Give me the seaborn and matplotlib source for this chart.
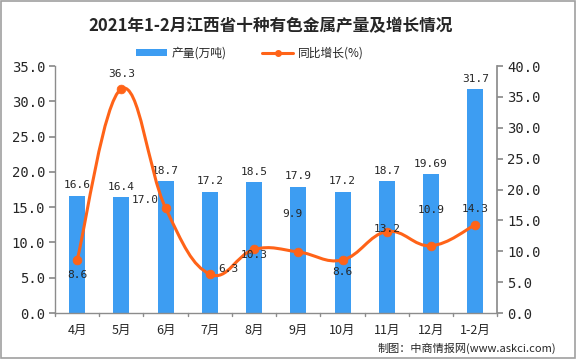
import matplotlib
matplotlib.use("Agg")
import matplotlib.pyplot as plt
import seaborn as sns
import pandas as pd
import numpy as np
from matplotlib.path import Path
from matplotlib.patches import PathPatch, Rectangle
from matplotlib.lines import Line2D

months = ["4月", "5月", "6月", "7月", "8月", "9月", "10月", "11月", "12月", "1-2月"]
output = [16.6, 16.4, 18.7, 17.2, 18.5, 17.9, 17.2, 18.7, 19.69, 31.7]
output_labels = ["16.6", "16.4", "18.7", "17.2", "18.5", "17.9", "17.2", "18.7", "19.69", "31.7"]
growth = [8.6, 36.3, 17.0, 6.3, 10.3, 9.9, 8.6, 13.2, 10.9, 14.3]
growth_labels = ["8.6", "36.3", "17.0", "6.3", "10.3", "9.9", "8.6", "13.2", "10.9", "14.3"]
left_ticks = [0, 5, 10, 15, 20, 25, 30, 35]
right_ticks = [0, 5, 10, 15, 20, 25, 30, 35, 40]

# label offsets (points) for growth labels
g_off = [(0, -11), (0, 11), (-15, 6), (13, 4), (0, -4), (-4, 27), (0, -9), (0, 2), (0, 26), (0, 11)]

BLUE = "#3D9DF2"
ORANGE = "#FF6318"
GRAY = "#8C8C8C"

sns.set_theme(style="white")
plt.rcParams['font.family'] = ['Noto Sans CJK SC', 'DejaVu Sans']
NUM = ['DejaVu Sans Mono', 'Noto Sans CJK SC']

fig = plt.figure(figsize=(5.76, 3.59), dpi=100)
fig.patch.set_facecolor("white")
fig.add_artist(Rectangle((0.001, 0.002), 0.997, 0.995, transform=fig.transFigure,
                         fill=False, edgecolor="#A0A0A0", linewidth=1.2))

ax = fig.add_axes([0.0955, 0.128, 0.768, 0.688])
df = pd.DataFrame({"month": months, "output": output})
sns.barplot(data=df, x="month", y="output", color=BLUE, width=0.36, ax=ax,
            saturation=1, edgecolor="none")
ax.set_xlim(-0.5, len(months) - 0.5)
ax.set_ylim(0, 35)
ax.set_yticks(left_ticks)
ax.set_yticklabels([f"{t:.1f}" for t in left_ticks], fontsize=10, family=NUM)
ax.set_xlabel("")
ax.set_ylabel("")
ax.set_xticks(range(len(months)))
ax.set_xticklabels(months, fontsize=9)
ax.tick_params(axis="x", length=0, pad=8)
ax.tick_params(axis="y", length=4, color=GRAY, direction="out", left=True, pad=3)
for x in np.arange(-0.5, len(months), 1.0):
    ax.plot([x, x], [0, -0.013], transform=ax.get_xaxis_transform(), color=GRAY,
            lw=1, clip_on=False)
for s in ["top", "right"]:
    ax.spines[s].set_visible(False)
for s in ["left", "bottom"]:
    ax.spines[s].set_color(GRAY)
    ax.spines[s].set_linewidth(1)

for i, (v, lab) in enumerate(zip(output, output_labels)):
    ax.annotate(lab, (i, v), xytext=(0, 4), textcoords="offset points",
                ha="center", va="bottom", fontsize=8, family=NUM)

ax2 = ax.twinx()
ax2.set_ylim(0, 40)
ax2.set_yticks(right_ticks)
ax2.set_yticklabels([f"{t:.1f}" for t in right_ticks], fontsize=10, family=NUM)
ax2.tick_params(axis="y", length=4, color=GRAY, direction="out", right=True, pad=3)
for s in ["top", "left", "bottom"]:
    ax2.spines[s].set_visible(False)
ax2.spines["right"].set_color(GRAY)
ax2.grid(False)
ax.grid(False)

# smooth line via Catmull-Rom bezier through data points
xs = np.arange(len(growth), dtype=float)
ys = np.array(growth, dtype=float)
verts = [(xs[0], ys[0])]
codes = [Path.MOVETO]
t = 0.6
for i in range(len(xs) - 1):
    p0 = (xs[i - 1], ys[i - 1]) if i > 0 else (xs[i], ys[i])
    p1 = (xs[i], ys[i])
    p2 = (xs[i + 1], ys[i + 1])
    p3 = (xs[i + 2], ys[i + 2]) if i + 2 < len(xs) else (xs[i + 1], ys[i + 1])
    c1 = (p1[0] + (p2[0] - p0[0]) * t / 3, p1[1] + (p2[1] - p0[1]) * t / 3)
    c2 = (p2[0] - (p3[0] - p1[0]) * t / 3, p2[1] - (p3[1] - p1[1]) * t / 3)
    verts += [c1, c2, p2]
    codes += [Path.CURVE4] * 3
ax2.add_patch(PathPatch(Path(verts, codes), fill=False, edgecolor=ORANGE, lw=2.2,
                        capstyle="round", joinstyle="round", zorder=3))
gdf = pd.DataFrame({"x": xs, "growth": growth})
sns.scatterplot(data=gdf, x="x", y="growth", color=ORANGE, s=40, edgecolor=ORANGE,
                ax=ax2, zorder=4, legend=False)
ax2.set_xlabel("")
ax2.set_ylabel("")
for i, (v, lab) in enumerate(zip(growth, growth_labels)):
    ax2.annotate(lab, (i, v), xytext=g_off[i], textcoords="offset points",
                 ha="center", va="center", fontsize=8, family=NUM, zorder=5)

fig.text(0.47, 0.928, "2021年1-2月江西省十种有色金属产量及增长情况", ha="center", va="center",
         fontsize=12, fontweight="bold")

handles = [Rectangle((0, 0), 1, 1, facecolor=BLUE, edgecolor="none"),
           Line2D([0], [0], color=ORANGE, lw=2.2, marker="o", markersize=4)]
fig.legend(handles, ["产量(万吨)", "同比增长(%)"], loc="center", bbox_to_anchor=(0.434, 0.852),
           ncol=2, frameon=False, fontsize=8.5, handlelength=2.6, handleheight=0.6,
           columnspacing=3, handletextpad=0.4)

fig.text(0.965, 0.03, "制图：中商情报网(www.askci.com)", ha="right", va="center", fontsize=8)

fig.savefig("out.png", dpi=100, facecolor="white")
